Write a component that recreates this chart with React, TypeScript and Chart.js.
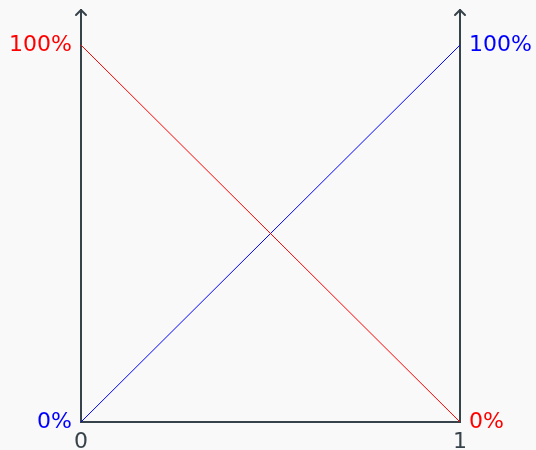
import React, { useEffect, useRef } from "react";
import { Chart, registerables } from "chart.js";

Chart.register(...registerables);

// Share of the two components across the 0..1 mix
const mixPositions = [0, 1];
const redShare = [100, 0];
const blueShare = [0, 100];
const yTicks = [0, 100];
const xTicks = [0, 1];

const RED = "#ff0000";
const BLUE = "#0000ff";
const AXIS = "#37434a";
const BG = "#f9f9f9";
const FONT = "'DejaVu Sans', 'Noto Sans', sans-serif";
const FONT_SIZE = 22;

const background = {
  id: "background",
  beforeDraw(chart: any) {
    const { ctx, width, height } = chart;
    ctx.save();
    ctx.fillStyle = BG;
    ctx.fillRect(0, 0, width, height);
    ctx.restore();
  },
};

// Arrowheads capping the two vertical axes
const axisArrows = {
  id: "axisArrows",
  afterDraw(chart: any) {
    const { ctx, chartArea } = chart;
    const top = chartArea.top;
    ctx.save();
    ctx.strokeStyle = AXIS;
    ctx.lineWidth = 2;
    ctx.lineCap = "round";
    ctx.lineJoin = "round";
    for (const x of [chartArea.left, chartArea.right]) {
      ctx.beginPath();
      ctx.moveTo(x - 5, top + 5);
      ctx.lineTo(x, top);
      ctx.lineTo(x + 5, top + 5);
      ctx.stroke();
    }
    ctx.restore();
  },
};

const fitVertical = (width: number) => (s: any) => {
  s.width = width;
  s.paddingTop = 0;
  s.paddingBottom = 0;
};

export default function App() {
  const ref = useRef<HTMLCanvasElement>(null);

  useEffect(() => {
    document.body.style.margin = "0";
    document.body.style.background = BG;
    const canvas = ref.current!;
    const chart = new Chart(canvas, {
      type: "line",
      data: {
        datasets: [
          {
            label: "red",
            data: mixPositions.map((x, i) => ({ x, y: redShare[i] })),
            borderColor: RED,
            borderWidth: 1,
            pointRadius: 0,
            yAxisID: "y",
          },
          {
            label: "blue",
            data: mixPositions.map((x, i) => ({ x, y: blueShare[i] })),
            borderColor: BLUE,
            borderWidth: 1,
            pointRadius: 0,
            yAxisID: "y",
          },
        ],
      },
      options: {
        animation: false,
        responsive: false,
        layout: { padding: { top: 10 } },
        plugins: { legend: { display: false }, tooltip: { enabled: false } },
        scales: {
          x: {
            type: "linear",
            min: 0,
            max: 1,
            grid: { display: false, drawTicks: false },
            border: { display: true, color: AXIS, width: 2 },
            afterBuildTicks: (s: any) => {
              s.ticks = xTicks.map((value) => ({ value }));
            },
            afterFit: (s: any) => {
              s.height = 28;
              s.paddingLeft = 0;
              s.paddingRight = 0;
            },
            ticks: {
              color: AXIS,
              padding: 7,
              font: { family: FONT, size: FONT_SIZE },
              callback: (v: any) => String(v),
            },
          },
          y: {
            type: "linear",
            position: "left",
            min: 0,
            max: 109.3,
            grid: { display: false, drawTicks: false },
            border: { display: true, color: AXIS, width: 2 },
            afterBuildTicks: (s: any) => {
              s.ticks = yTicks.map((value) => ({ value }));
            },
            afterFit: fitVertical(81),
            ticks: {
              padding: 9,
              font: { family: FONT, size: FONT_SIZE },
              color: (c: any) => (c.tick && c.tick.value === 100 ? RED : BLUE),
              callback: (v: any) => v + "%",
            },
          },
          y2: {
            type: "linear",
            position: "right",
            min: 0,
            max: 109.3,
            grid: { display: false, drawTicks: false },
            border: { display: true, color: AXIS, width: 2 },
            afterBuildTicks: (s: any) => {
              s.ticks = yTicks.map((value) => ({ value }));
            },
            afterFit: fitVertical(76),
            ticks: {
              padding: 9,
              font: { family: FONT, size: FONT_SIZE },
              color: (c: any) => (c.tick && c.tick.value === 100 ? BLUE : RED),
              callback: (v: any) => v + "%",
            },
          },
        },
      },
      plugins: [background, axisArrows],
    });
    return () => chart.destroy();
  }, []);

  return (
    <div style={{ width: 536, height: 450, background: BG }}>
      <canvas ref={ref} width={536} height={450} />
    </div>
  );
}
